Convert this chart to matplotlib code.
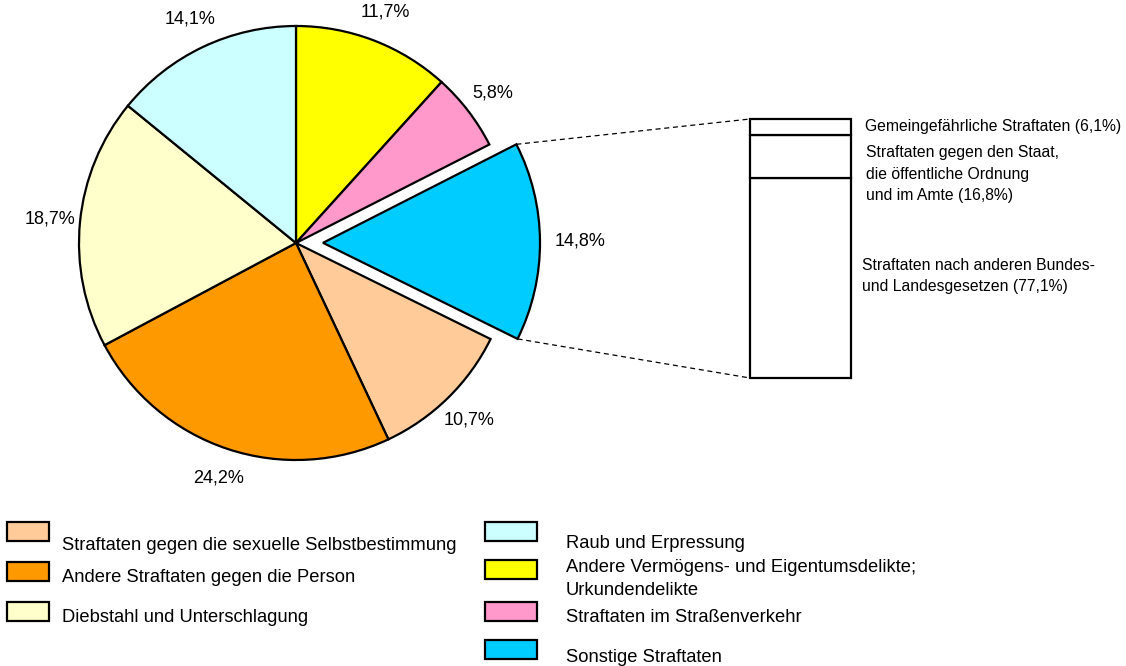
import matplotlib
matplotlib.use("Agg")
import matplotlib.pyplot as plt
import numpy as np
from matplotlib.patches import Rectangle

plt.rcParams['font.family'] = ['Liberation Sans', 'DejaVu Sans']

# ---- data ----
pie_categories = [
    "Andere Vermögens- und Eigentumsdelikte;\nUrkundendelikte",
    "Straftaten im Straßenverkehr",
    "Sonstige Straftaten",
    "Straftaten gegen die sexuelle Selbstbestimmung",
    "Andere Straftaten gegen die Person",
    "Diebstahl und Unterschlagung",
    "Raub und Erpressung",
]
pie_values = [11.7, 5.8, 14.8, 10.7, 24.2, 18.7, 14.1]
pie_labels = ["11,7%", "5,8%", "14,8%", "10,7%", "24,2%", "18,7%", "14,1%"]
pie_colors = ["#FFFF00", "#FF99CC", "#00CCFF", "#FFCC99", "#FF9900", "#FFFFCC", "#CCFFFF"]

bar_values = [77.1, 16.8, 6.1]   # bottom to top
bar_labels = ["Straftaten nach anderen Bundes-\nund Landesgesetzen (77,1%)",
              "Straftaten gegen den Staat,\ndie öffentliche Ordnung\nund im Amte (16,8%)",
              "Gemeingefährliche Straftaten (6,1%)"]

# legend layout order
legend_left = [3, 4, 5]
legend_right = [6, 0, 1, 2]

W, H = 1126, 666
fig = plt.figure(figsize=(W / 100, H / 100), dpi=100)
ax = fig.add_axes([0, 0, 1, 1])

cx, cy, R = 296, H - 243, 217
explode = [0, 0, 27, 0, 0, 0, 0]
wedges, texts = ax.pie(pie_values, colors=pie_colors, startangle=90, counterclock=False,
                       center=(cx, cy), radius=R, explode=explode,
                       labels=pie_labels, labeldistance=1.14,
                       wedgeprops=dict(edgecolor='black', linewidth=1.6),
                       textprops=dict(fontsize=13), frame=True)
ax.set_xlim(0, W)
ax.set_ylim(0, H)
ax.set_aspect('equal')
ax.axis('off')
for t in texts:
    t.set_ha('center')
    t.set_va('center')
# the exploded slice's label sits a bit further out
x, y = texts[2].get_position()
texts[2].set_position((x + 10, y))

# stacked bar
bx0, bw = 750, 101
btop, bbot = H - 119, H - 378
scale = (btop - bbot) / sum(bar_values)
bottom = bbot
for v in bar_values:
    ax.bar(bx0 + bw / 2, v * scale, bottom=bottom, width=bw, color='white',
           edgecolor='black', linewidth=1.6)
    bottom += v * scale

# bar labels
ax.text(865, H - 127, bar_labels[2], fontsize=11.3, va='center', ha='left')
ax.text(866, H - 174, bar_labels[1], fontsize=11.3, va='center', ha='left', linespacing=1.55)
ax.text(862, H - 276, bar_labels[0], fontsize=11.3, va='center', ha='left', linespacing=1.55)

# connector dashed lines from exploded wedge corners
w = wedges[2]
wc = w.center
t1, t2 = np.deg2rad(w.theta1), np.deg2rad(w.theta2)
p_a = (wc[0] + w.r * np.cos(t2), wc[1] + w.r * np.sin(t2))
p_b = (wc[0] + w.r * np.cos(t1), wc[1] + w.r * np.sin(t1))
p_top, p_bot = (p_a, p_b) if p_a[1] > p_b[1] else (p_b, p_a)
ax.plot([p_top[0], bx0], [p_top[1], btop], color='black', linestyle=(0, (4, 3)), linewidth=0.9)
ax.plot([p_bot[0], bx0], [p_bot[1], bbot], color='black', linestyle=(0, (4, 3)), linewidth=0.9)

# legend (manual)
left_boxes_y = [522, 562, 602]
left_text_y = [545, 577, 617]
for i, by, ty in zip(legend_left, left_boxes_y, left_text_y):
    ax.add_patch(Rectangle((7, H - by - 19), 42, 19, facecolor=pie_colors[i],
                           edgecolor='black', linewidth=1.6))
    ax.text(62, H - ty, pie_categories[i], fontsize=13.2, va='center', ha='left')

right_boxes_y = [522, 560, 602, 640]
right_text_y = [544, 579, 618, 657]
for i, by, ty in zip(legend_right, right_boxes_y, right_text_y):
    ax.add_patch(Rectangle((485, H - by - 19), 52, 19, facecolor=pie_colors[i],
                           edgecolor='black', linewidth=1.6))
    ax.text(566, H - ty, pie_categories[i], fontsize=13.2, va='center', ha='left',
            linespacing=1.4)

fig.savefig("out.png", dpi=100)
